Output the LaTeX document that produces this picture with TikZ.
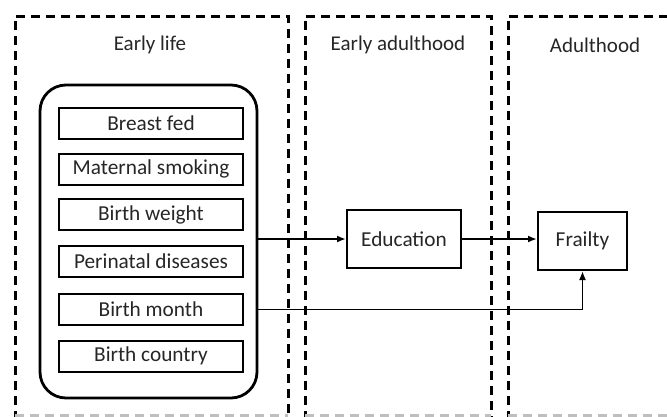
\documentclass[tikz,border=0pt]{standalone}
\usepackage{fontspec}
\setmainfont{Carlito}
\usetikzlibrary{arrows.meta}
\begin{document}
\begin{tikzpicture}[x=1pt,y=-1pt,
  phase/.style={line width=3pt,dash pattern=on 9pt off 6pt},
  phasebottom/.style={line width=3pt,dash pattern=on 9pt off 6pt,black!25},
  title/.style={font=\fontsize{21}{24}\selectfont,inner sep=0pt,text=black!85},
  factor/.style={draw,line width=2pt,minimum width=184pt,minimum height=31pt,inner sep=0pt,font=\fontsize{21.3}{24}\selectfont,text=black!85},
  outcome/.style={draw,line width=2pt,minimum height=58pt,inner sep=0pt,font=\fontsize{21.3}{24}\selectfont,text=black!85},
  group/.style={draw,line width=2.8pt,rounded corners=26pt},
  conn/.style={line width=1.8pt,-{Latex[length=9pt,width=7pt]}}
]
\useasboundingbox (0,0) rectangle (667,416);
\begin{scope}
\clip (0,0) rectangle (667,416);
% phase frames
\draw[phase] (15,420) -- (15,16) -- (288,16) -- (288,420);
\draw[phase] (305,420) -- (305,16) -- (491,16) -- (491,420);
\draw[phase] (508,420) -- (508,16) -- (680,16);
\draw[phasebottom] (15,415) -- (288,415);
\draw[phasebottom] (305,415) -- (491,415);
\draw[phasebottom] (508,415) -- (680,415);
\end{scope}
\node[title] (t1) at (150,45) {Early life};
\node[title] (t2) at (398,45) {Early adulthood};
\node[title] (t3) at (595,45) {Adulthood};
% group of early life factors
\node[group,minimum width=217pt,minimum height=313pt,inner sep=0pt] (grp) at (148.5,241.5) {};
\node[factor] (bf) at (151,123.5) {Breast fed};
\node[factor] (ms) at (151,169) {Maternal smoking};
\node[factor] (bw) at (151,214.5) {Birth weight};
\node[factor] (pd) at (151,261.5) {Perinatal diseases};
\node[factor] (bm) at (151,309.5) {Birth month};
\node[factor] (bc) at (151,356) {Birth country};
% outcomes
\node[outcome,minimum width=114pt] (edu) at (404,239) {Education};
\node[outcome,minimum width=89pt] (fr) at (582.5,241) {Frailty};
% connectors
\draw[conn] (edu.west -| grp.east) -- (edu.west);
\draw[conn] (edu.east) -- (edu.east -| fr.west);
\draw[conn] (bm.center -| grp.east) -- (bm.center -| fr.south) -- (fr.south);
\end{tikzpicture}
\end{document}
